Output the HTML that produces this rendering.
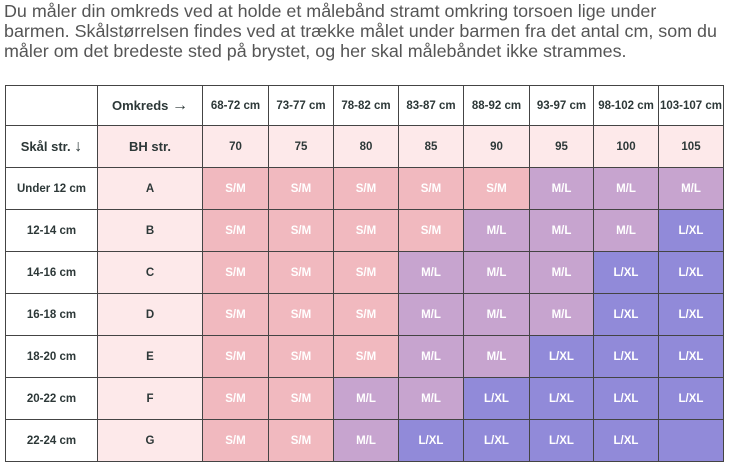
<!DOCTYPE html>
<html><head><style>
body{margin:0;width:730px;height:465px;background:#fff;overflow:hidden;font-family:"Liberation Sans",sans-serif;}
.txt{position:absolute;left:4px;top:1px;font-size:17.9px;line-height:20px;color:#555;white-space:nowrap;}
table{position:absolute;left:5px;top:85px;border-collapse:collapse;table-layout:fixed;}
td{border:1.5px solid #444;text-align:center;font-size:11.5px;font-weight:bold;color:#2d3838;padding:0;}
td.w{color:#fff;}
.p{background:#fde9ea}
.s{background:#f1b9bf}
.m{background:#c7a4cf}
.l{background:#918ad9}
.ar{font-size:16px;font-weight:normal}
</style></head><body>
<div class="txt">Du måler din omkreds ved at holde et målebånd stramt omkring torsoen lige under<br>barmen. Skålstørrelsen findes ved at trække målet under barmen fra det antal cm, som du<br>måler om det bredeste sted på brystet, og her skal målebåndet ikke strammes.</div>
<table>
<colgroup><col style="width:92px"><col style="width:105px"><col style="width:66px"><col style="width:65px"><col style="width:65px"><col style="width:65px"><col style="width:66px"><col style="width:64px"><col style="width:65px"><col style="width:65px"></colgroup>
<tr style="height:40px"><td style="font-size:13px"></td><td style="font-size:13px">Omkreds <span class="ar">→</span></td><td>68-72 cm</td><td>73-77 cm</td><td>78-82 cm</td><td>83-87 cm</td><td>88-92 cm</td><td>93-97 cm</td><td>98-102 cm</td><td>103-107 cm</td></tr>
<tr style="height:42px"><td style="font-size:13px">Skål str. <span class="ar">↓</span></td><td class="p" style="font-size:13px">BH str.</td><td class="p">70</td><td class="p">75</td><td class="p">80</td><td class="p">85</td><td class="p">90</td><td class="p">95</td><td class="p">100</td><td class="p">105</td></tr>
<tr style="height:42px"><td>Under 12 cm</td><td class="p">A</td><td class="w s">S/M</td><td class="w s">S/M</td><td class="w s">S/M</td><td class="w s">S/M</td><td class="w s">S/M</td><td class="w m">M/L</td><td class="w m">M/L</td><td class="w m">M/L</td></tr>
<tr style="height:42px"><td>12-14 cm</td><td class="p">B</td><td class="w s">S/M</td><td class="w s">S/M</td><td class="w s">S/M</td><td class="w s">S/M</td><td class="w m">M/L</td><td class="w m">M/L</td><td class="w m">M/L</td><td class="w l">L/XL</td></tr>
<tr style="height:42px"><td>14-16 cm</td><td class="p">C</td><td class="w s">S/M</td><td class="w s">S/M</td><td class="w s">S/M</td><td class="w m">M/L</td><td class="w m">M/L</td><td class="w m">M/L</td><td class="w l">L/XL</td><td class="w l">L/XL</td></tr>
<tr style="height:42px"><td>16-18 cm</td><td class="p">D</td><td class="w s">S/M</td><td class="w s">S/M</td><td class="w s">S/M</td><td class="w m">M/L</td><td class="w m">M/L</td><td class="w m">M/L</td><td class="w l">L/XL</td><td class="w l">L/XL</td></tr>
<tr style="height:42px"><td>18-20 cm</td><td class="p">E</td><td class="w s">S/M</td><td class="w s">S/M</td><td class="w s">S/M</td><td class="w m">M/L</td><td class="w m">M/L</td><td class="w l">L/XL</td><td class="w l">L/XL</td><td class="w l">L/XL</td></tr>
<tr style="height:42px"><td>20-22 cm</td><td class="p">F</td><td class="w s">S/M</td><td class="w s">S/M</td><td class="w m">M/L</td><td class="w m">M/L</td><td class="w l">L/XL</td><td class="w l">L/XL</td><td class="w l">L/XL</td><td class="w l">L/XL</td></tr>
<tr style="height:42px"><td>22-24 cm</td><td class="p">G</td><td class="w s">S/M</td><td class="w s">S/M</td><td class="w m">M/L</td><td class="w l">L/XL</td><td class="w l">L/XL</td><td class="w l">L/XL</td><td class="w l">L/XL</td><td class="w l"></td></tr>
</table>
</body></html>
